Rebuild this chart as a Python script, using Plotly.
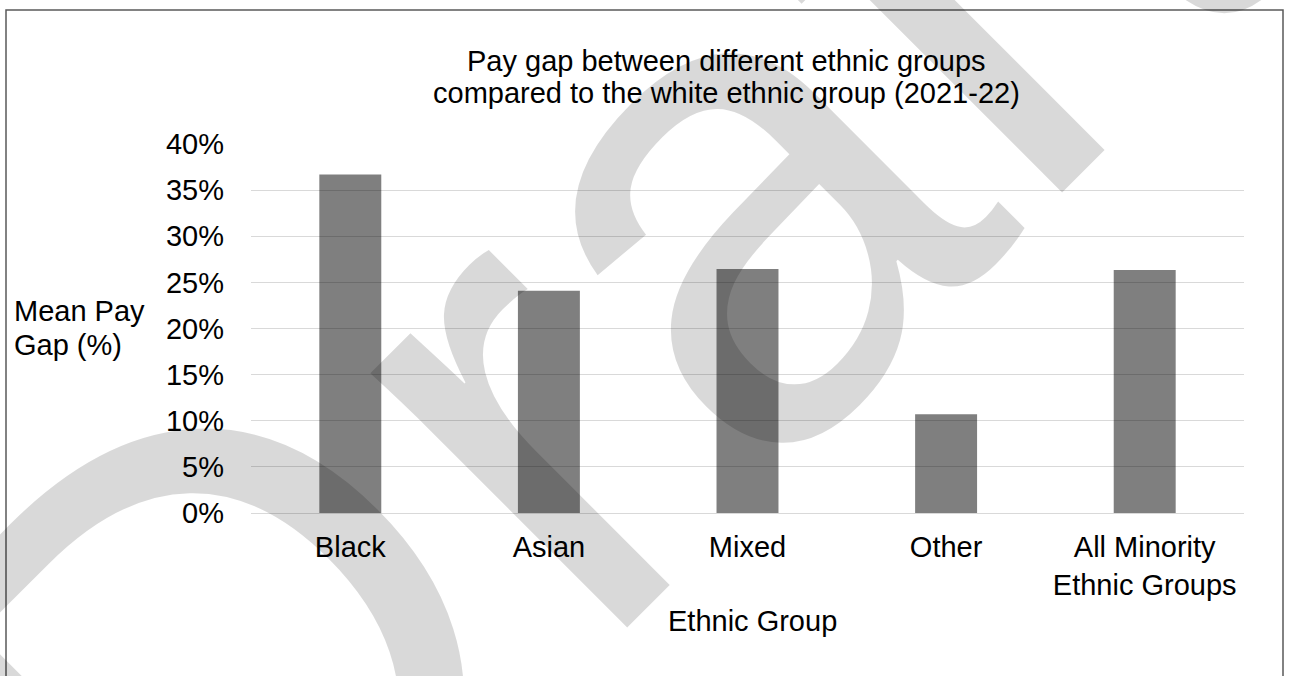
import math
import plotly.graph_objects as go

categories = ["Black", "Asian", "Mixed", "Other", "All Minority<br>Ethnic Groups"]
pay_gap = [36.7, 24.1, 26.45, 10.7, 26.35]
y_ticks = [0, 5, 10, 15, 20, 25, 30, 35, 40]
y_tick_text = [f"{v}%" for v in y_ticks]
title_lines = ["Pay gap between different ethnic groups",
               "compared to the white ethnic group (2021-22)"]
y_title_lines = ["Mean Pay", "Gap (%)"]
x_title = "Ethnic Group"
watermark = "Draft"

W, H = 1289, 676
# plot area in pixels (as seen in the reference)
L, R, T, B = 251, 1244, 144, 513
FONT = "Liberation Sans, Arial, sans-serif"
FS = 29


def px(x):
    return (x - L) / (R - L)


def py(y):
    return (B - y) / (B - T)


fig = go.Figure()
fig.add_trace(go.Bar(
    x=categories, y=pay_gap,
    marker=dict(color="rgba(0,0,0,0.5)", line=dict(width=0)),
    hoverinfo="skip",
))

annotations = []
for txt, yc in zip(title_lines, [61, 92.5]):
    annotations.append(dict(text=txt, xref="paper", yref="paper", x=px(726), y=py(yc),
                            xanchor="center", yanchor="middle", showarrow=False,
                            font=dict(family=FONT, size=FS, color="black")))
for txt, yc in zip(y_title_lines, [311, 345]):
    annotations.append(dict(text=txt, xref="paper", yref="paper", x=px(12), y=py(yc),
                            xanchor="left", yanchor="middle", showarrow=False,
                            font=dict(family=FONT, size=FS, color="black")))
annotations.append(dict(text=x_title, xref="paper", yref="paper", x=px(752), y=py(621),
                        xanchor="center", yanchor="middle", showarrow=False,
                        font=dict(family=FONT, size=FS, color="black")))

# watermark, rotated 45 degrees, letters placed along a common baseline
base_h = -887.4
letter_size = [740, 684, 684, 684, 684]
letter_s = [-325, 66, 375, 650, 880]
c = math.cos(math.radians(45))
for ch, s, fsz in zip(watermark, letter_s, letter_size):
    h = base_h + 0.3465 * fsz
    sx = c * (s - h)
    sy = -c * (s + h)
    annotations.append(dict(text=ch, xref="paper", yref="paper", x=px(sx), y=py(sy),
                            xanchor="center", yanchor="middle", showarrow=False,
                            textangle=-45,
                            font=dict(family=FONT, size=fsz, color="rgba(0,0,0,0.15)")))

fig.update_layout(
    width=W, height=H,
    margin=dict(l=L, r=W - R, t=T, b=H - B, autoexpand=False),
    paper_bgcolor="white", plot_bgcolor="white",
    showlegend=False,
    bargap=0.688,
    font=dict(family=FONT, size=FS, color="black"),
    annotations=annotations,
    shapes=[dict(type="rect", xref="paper", yref="paper",
                 x0=px(6), x1=px(1283), y0=py(720), y1=py(10),
                 line=dict(color="#595959", width=1.5), fillcolor="rgba(0,0,0,0)",
                 layer="above")],
    xaxis=dict(showgrid=False, showline=False, zeroline=False, ticks="",
               tickfont=dict(family=FONT, size=FS, color="black"),
               ticklabelstandoff=14, fixedrange=True),
    yaxis=dict(range=[0, 40], tickvals=y_ticks, ticktext=y_tick_text, showline=False,
               showgrid=True, gridcolor="rgba(0,0,0,0.15)", gridwidth=1,
               zeroline=True, zerolinecolor="rgba(0,0,0,0.15)", zerolinewidth=1,
               ticks="", ticklabelstandoff=26,
               tickfont=dict(family=FONT, size=FS, color="black"), fixedrange=True),
)

fig.write_html("out.html", config={"displayModeBar": False},
               post_script="document.body.style.margin='0px';"
                           "document.body.style.overflow='hidden';")
